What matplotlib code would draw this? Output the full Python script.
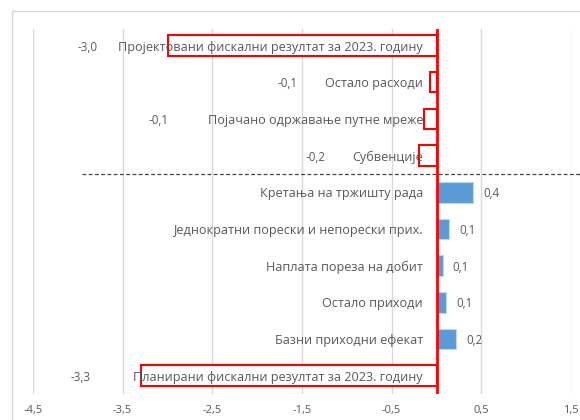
import matplotlib.pyplot as plt
from matplotlib.patches import Rectangle

plt.rcParams['font.family'] = ['Open Sans', 'DejaVu Sans']

categories = [
    "Пројектовани фискални резултат за 2023. годину",
    "Остало расходи",
    "Појачано одржавање путне мреже",
    "Субвенције",
    "Кретања на тржишту рада",
    "Једнократни порески и непорески прих.",
    "Наплата пореза на добит",
    "Остало приходи",
    "Базни приходни ефекат",
    "Планирани фискални резултат за 2023. годину",
]
values = [-3.0, -0.07, -0.14, -0.19, 0.41, 0.14, 0.07, 0.11, 0.22, -3.3]
ticks = [-4.5, -3.5, -2.5, -1.5, -0.5, 0.5, 1.5]

# where the value labels of the negative bars sit (set by hand in the original)
neg_label_x = {0: -3.89, 1: -1.66, 2: -3.10, 3: -1.345, 9: -3.97}

gray = '#595959'
red = '#FF0000'
blue = '#5B9BD5'

fig = plt.figure(figsize=(5.8, 4.2), dpi=100)
ax = fig.add_axes([33 / 580, 26 / 420, 538 / 580, 365 / 420])

# chart frame
fig.patches.append(Rectangle((12 / 580, -0.1), 1.2, 1.1 - 11 / 420,
                             transform=fig.transFigure, fill=False,
                             edgecolor='#D9D9D9', lw=1))

for i, v in enumerate(values):
    if v < 0:
        ax.barh(i, v, height=0.56, color='white', edgecolor=red, lw=1.5, zorder=2)
    else:
        ax.barh(i, v, height=0.56, color=blue, edgecolor='#BDD7EE', lw=0.8, zorder=2)
    lab = f"{v:.1f}".replace('.', ',')
    ax.text(-0.15, i, categories[i], ha='right', va='center_baseline',
            color=gray, fontsize=9.1, zorder=3)
    if v < 0:
        ax.text(neg_label_x[i], i, lab, ha='center', va='center_baseline',
                color=gray, fontsize=8.3, zorder=3)
    else:
        ax.text(v + 0.11, i, lab, ha='left', va='center_baseline', color=gray,
                fontsize=8.3, zorder=3)

ax.axvline(0, color=red, lw=2, zorder=4)
ax.plot([-3.95, 1.65], [3.5, 3.5], ls='--', color='#404040', lw=0.9,
        dashes=(3, 2), clip_on=False, zorder=3)

ax.set_xlim(-4.5, 1.5)
ax.set_ylim(9.5, -0.45)
ax.set_xticks(ticks)
ax.set_xticklabels([f"{t:.1f}".replace('.', ',') for t in ticks], color=gray,
                   fontsize=8)
ax.set_yticks([])
ax.tick_params(axis='x', length=0, pad=8)
ax.grid(axis='x', color='#D9D9D9', lw=1, zorder=0)
ax.set_axisbelow(True)
for s in ax.spines.values():
    s.set_visible(False)

fig.savefig('out.png', dpi=100)
